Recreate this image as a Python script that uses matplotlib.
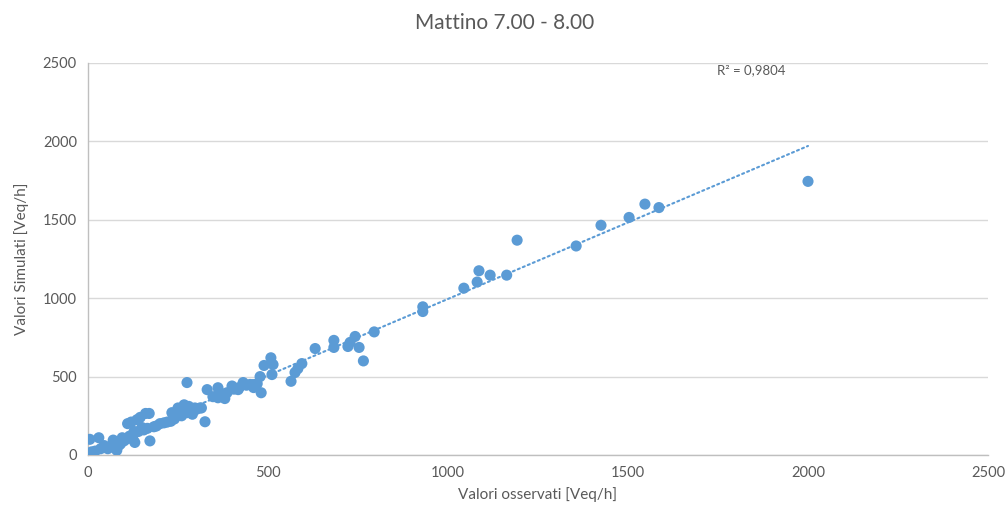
import numpy as np
import matplotlib
matplotlib.use("Agg")
import matplotlib.pyplot as plt

plt.rcParams['font.family'] = ['Lato', 'DejaVu Sans']

# observed vs simulated flows, morning peak 7-8
osservati = [5, 30, 3, 15, 20, 45, 55, 70, 80, 85, 100, 110, 128, 130, 136, 150,
             160, 172, 183, 200, 211, 230, 233, 245, 256, 267, 275, 275, 297, 311,
             325, 331, 347, 361, 361, 375, 386, 400, 417, 431, 450, 458, 478, 481,
             489, 508, 511, 514, 564, 575, 583, 594, 631, 683, 683, 722, 728, 742,
             753, 765, 795, 930, 930, 1044, 1081, 1086, 1117, 1163, 1192, 1356,
             1425, 1503, 1547, 1586, 2000,
             10, 35, 60, 90, 95, 105, 115, 120, 125, 140, 145, 155, 165, 170, 190,
             220, 240, 250, 260, 280, 285, 290, 300, 315, 405, 420, 440, 460, 470,
             380, 365]
simulati = [100, 110, 0, 10, 25, 60, 40, 95, 30, 60, 90, 200, 150, 80, 225, 175,
            265, 90, 180, 200, 205, 215, 270, 250, 256, 320, 270, 462, 300, 300,
            212, 417, 372, 429, 365, 385, 397, 440, 417, 462, 450, 449, 500, 397,
            571, 620, 513, 577, 470, 526, 551, 583, 679, 731, 686, 692, 718, 756,
            686, 600, 785, 945, 915, 1064, 1103, 1175, 1147, 1147, 1370, 1333,
            1465, 1515, 1600, 1578, 1745,
            20, 40, 50, 70, 110, 100, 120, 210, 100, 150, 240, 160, 170, 265, 185,
            210, 230, 300, 250, 310, 290, 260, 290, 300, 420, 430, 445, 430, 455,
            360, 400]
r2_label = "R² = 0,9804"

blu = "#5B9BD5"
grigio = "#595959"

fig = plt.figure(figsize=(10.08, 5.16), dpi=100)
ax = fig.add_axes([88 / 1008, 1 - 455 / 516, 900 / 1008, 392 / 516])

x = np.array(osservati, dtype=float)
y = np.array(simulati, dtype=float)

ax.scatter(x, y, s=64, color=blu, edgecolors='none', zorder=3)

# linear trendline over the observed range
m, q = np.polyfit(x, y, 1)
xt = np.array([x.min(), x.max()])
ax.plot(xt, m * xt + q, color=blu, lw=1.5, linestyle=(0, (1, 1.6)),
        dash_capstyle='round', zorder=2)

ax.text(1747, 2455, r2_label, fontsize=9.5, color=grigio, va='center', ha='left')

ax.set_xlim(0, 2500)
ax.set_ylim(0, 2500)
ax.set_xticks(range(0, 2501, 500))
ax.set_yticks(range(0, 2501, 500))
ax.tick_params(length=0, labelsize=10.5, labelcolor=grigio, pad=8)

ax.grid(axis='y', color='#d9d9d9', lw=1)
ax.set_axisbelow(True)
for s in ['top', 'right']:
    ax.spines[s].set_visible(False)
for s in ['left', 'bottom']:
    ax.spines[s].set_color('#bfbfbf')
    ax.spines[s].set_linewidth(1)

ax.set_xlabel("Valori osservati [Veq/h]", fontsize=11, color=grigio, labelpad=5)
ax.set_ylabel("Valori Simulati [Veq/h]", fontsize=11, color=grigio, labelpad=10)
fig.text(505 / 1008, 1 - 23 / 516, "Mattino 7.00 - 8.00", fontsize=15,
         color=grigio, ha='center', va='center')

fig.savefig("out.png", dpi=100)
